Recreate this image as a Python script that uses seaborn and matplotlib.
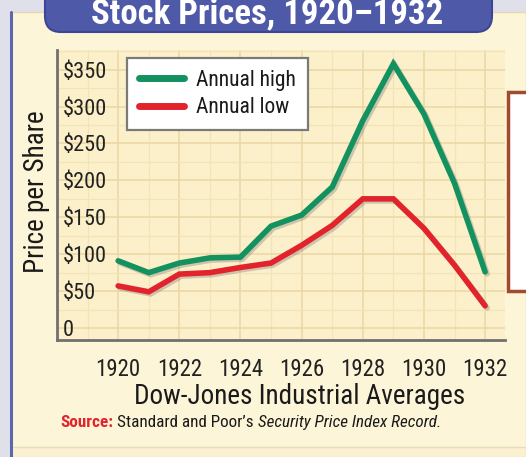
import matplotlib
matplotlib.use("Agg")
import numpy as np
import pandas as pd
import seaborn as sns
import matplotlib.pyplot as plt
from matplotlib import font_manager as fm
import matplotlib.patheffects as pe
from matplotlib.patches import Rectangle, FancyBboxPatch
from matplotlib.lines import Line2D

# ---------------- data ----------------
years = list(range(1920, 1933))
annual_high = [91, 75, 88, 95, 96, 138, 153, 191, 281, 358, 290, 196, 76]
annual_low = [57, 49, 73, 75, 82, 88, 112, 139, 175, 175, 135, 85, 30]
series_names = ["Annual high", "Annual low"]
y_ticks = [0, 50, 100, 150, 200, 250, 300, 350]
y_tick_labels = ["0", "$50", "$100", "$150", "$200", "$250", "$300", "$350"]
x_ticks = [1920, 1922, 1924, 1926, 1928, 1930, 1932]
x_tick_labels = ["1920", "1922", "1924", "1926", "1928", "1930", "1932"]
title = "Stock Prices, 1920\u20131932"
x_label = "Dow-Jones Industrial Averages"
y_label = "Price per Share"

df = pd.DataFrame({
    "year": years * 2,
    "price": annual_high + annual_low,
    "series": [series_names[0]] * len(years) + [series_names[1]] * len(years),
})

GREEN = "#13925f"
RED = "#e2232c"
palette = {series_names[0]: GREEN, series_names[1]: RED}

sns.set_theme(style="white")
available = {f.name for f in fm.fontManager.ttflist}
cands = ["Liberation Sans Narrow", "DejaVu Sans Condensed", "Roboto Condensed", "Roboto", "DejaVu Sans"]
FONT = next(c for c in cands if c in available)
plt.rcParams["font.family"] = [FONT, "DejaVu Sans"]

W, H = 526, 457
fig = plt.figure(figsize=(W / 100, H / 100), dpi=100)
fig.patch.set_facecolor("#dfe0ea")
inch = fig.dpi_scale_trans

# panel background
fig.patches.append(Rectangle((0.11, 0), (W - 11) / 100, (H - 12) / 100, transform=inch,
                             facecolor="#fdf5d8", edgecolor="#e6d7b0", lw=1, zorder=-3))
fig.patches.append(Rectangle((0.11, 0), (W - 11) / 100, (H - 447) / 100, transform=inch,
                             facecolor="#fbf1d2", edgecolor="#eadcb6", lw=1, zorder=-3))
fig.lines.append(Line2D([0.11, 0.11], [0, (H - 12) / 100], transform=inch, color="#5a68b2", lw=2.2, zorder=-2))

# axes
ax = fig.add_axes([57 / W, 1 - 340 / H, 448 / W, 290 / H])
ax.set_zorder(1)
ax.set_facecolor("#fcf0ca")
sns.lineplot(data=df, x="year", y="price", hue="series", palette=palette, linewidth=4,
             legend=False, ax=ax, zorder=5)
for ln in ax.lines:
    ln.set_path_effects([pe.SimpleLineShadow(offset=(1.5, -1.5), shadow_color="#777777", alpha=0.35),
                         pe.Normal()])
    ln.set_solid_joinstyle("miter")

ax.set_xlim(1918.04, 1932.65)
ax.set_ylim(-16.3, 376.7)
ax.set_xticks(x_ticks, labels=x_tick_labels, fontsize=16.5, color="#222222")
ax.set_xticks(np.arange(1918, 1933, 1), minor=True)
ax.set_yticks(y_ticks, labels=y_tick_labels, fontsize=16, color="#222222", ha="left")
ax.set_yticks(np.arange(25, 376, 25), minor=True)
ax.tick_params(axis="y", which="both", length=0, pad=-4)
ax.tick_params(axis="x", which="both", length=0, pad=13)
ax.grid(True, which="major", color="#ecd8a6", lw=1.2)
ax.grid(True, which="minor", color="#f3e3b9", lw=0.9)
ax.set_axisbelow(True)
ax.set_xlabel("")
ax.set_ylabel("")
for s in ["top", "right"]:
    ax.spines[s].set_visible(False)
for s in ["left", "bottom"]:
    ax.spines[s].set_color("#707070")
    ax.spines[s].set_linewidth(2)

# legend
handles = [Line2D([0], [0], color=GREEN, lw=5), Line2D([0], [0], color=RED, lw=5)]
leg = fig.legend(handles, series_names, loc="upper left", bbox_to_anchor=(127 / W, 1 - 58 / H),
                 borderaxespad=0, frameon=True, fancybox=False, edgecolor="#7a7a7a", facecolor="white",
                 framealpha=1, fontsize=15.5, handlelength=2.1, handletextpad=0.55, labelspacing=0.3,
                 borderpad=0.55)
leg.get_frame().set_linewidth(1.6)
leg.set_zorder(6)
for t in leg.get_texts():
    t.set_color("#1a1a1a")

# labels
fig.text(37 / W, 1 - 192 / H, y_label, rotation=90, ha="center", va="center", fontsize=19.5, color="#1a1a1a")
fig.text(300 / W, 1 - 397 / H, x_label, ha="center", va="center", fontsize=19.5, color="#1a1a1a")

# title banner
fig.patches.append(FancyBboxPatch((0.45, (H - 32) / 100), 4.47, 0.6, transform=inch,
                                  boxstyle="round,pad=0,rounding_size=0.16",
                                  facecolor="#4e59a7", edgecolor="#3d4694", lw=1.5, zorder=3))
fig.text(267 / W, 1 - 23 / H, title, ha="center", va="baseline", color="white",
         fontsize=25, fontweight="bold", zorder=4)

# right side box
fig.patches.append(Rectangle((5.08, (H - 291) / 100), 0.4, 1.99, transform=inch,
                             facecolor="white", edgecolor="#a24a2e", lw=2.5, zorder=3))

# source line
r = fig.canvas.get_renderer()
yb = 1 - 427 / H
t1 = fig.text(60 / W, yb, "Source:", color=RED, fontweight="bold", fontsize=12.3, va="baseline")
bb = t1.get_window_extent(r)
t2 = fig.text((bb.x1 + 4) / W, yb, "Standard and Poor\u2019s", color="#1a1a1a", fontsize=12.3, va="baseline")
bb2 = t2.get_window_extent(r)
fig.text((bb2.x1 + 4) / W, yb, "Security Price Index Record.", color="#1a1a1a", fontsize=12.3,
         style="italic", va="baseline")

fig.savefig("out.png", dpi=100, facecolor=fig.get_facecolor())
